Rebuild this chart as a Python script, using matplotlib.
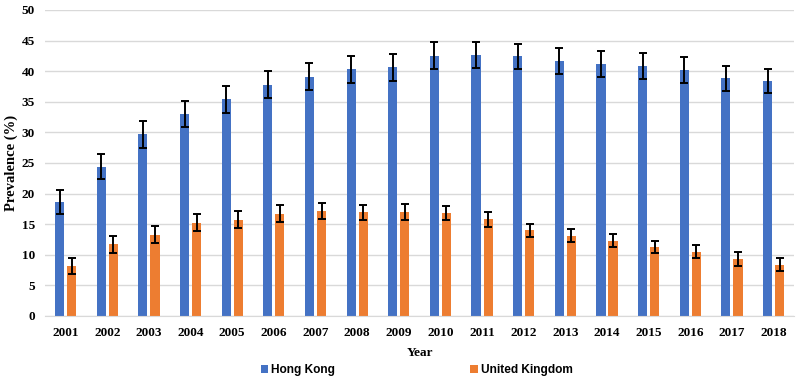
import numpy as np
import matplotlib.pyplot as plt

years = [str(y) for y in range(2001, 2019)]
hk = [18.6, 24.4, 29.7, 33.0, 35.4, 37.8, 39.1, 40.3, 40.6, 42.5, 42.6, 42.4, 41.7, 41.2, 40.8, 40.2, 38.8, 38.4]
hk_err = [2.0, 2.1, 2.2, 2.2, 2.2, 2.2, 2.2, 2.2, 2.2, 2.2, 2.1, 2.1, 2.1, 2.1, 2.1, 2.1, 2.1, 2.0]
uk = [8.2, 11.7, 13.3, 15.2, 15.7, 16.7, 17.2, 16.9, 17.0, 16.8, 15.8, 14.0, 13.1, 12.3, 11.3, 10.5, 9.3, 8.4]
uk_err = [1.3, 1.4, 1.4, 1.4, 1.4, 1.4, 1.3, 1.3, 1.3, 1.2, 1.2, 1.1, 1.1, 1.1, 1.0, 1.1, 1.1, 1.05]

blue = '#4472C4'
orange = '#ED7D31'
serif = ['Liberation Serif', 'DejaVu Serif']

fig = plt.figure(figsize=(8, 3.82), dpi=100)
ax = fig.add_axes([0.056, 0.173, 0.937, 0.801])

x = np.arange(len(years))
w = 0.22
off = 0.145
ax.bar(x - off, hk, w, color=blue, label='Hong Kong', zorder=2)
ax.bar(x + off, uk, w, color=orange, label='United Kingdom', zorder=2)
ekw = dict(fmt='none', ecolor='black', elinewidth=1.4, capsize=3, capthick=1.4, zorder=3)
ax.errorbar(x - off, hk, yerr=hk_err, **ekw)
ax.errorbar(x + off, uk, yerr=uk_err, **ekw)

ax.set_xlim(-0.5, len(years) - 0.5)
ax.set_ylim(0, 50)
ax.set_yticks(range(0, 51, 5))
ax.set_xticks(x)
ax.set_xticklabels(years)
ax.grid(axis='y', color='#D9D9D9', linewidth=1, zorder=0)
for s in ['top', 'right', 'left']:
    ax.spines[s].set_visible(False)
ax.spines['bottom'].set_color('#D9D9D9')
ax.tick_params(axis='y', length=0, pad=7)
ax.tick_params(axis='x', length=0, pad=8)
for lab in ax.get_xticklabels() + ax.get_yticklabels():
    lab.set_fontfamily(serif)
    lab.set_fontweight('bold')
    lab.set_fontsize(9.5)

ax.set_ylabel('Prevalence (%)', fontfamily=serif, fontweight='bold', fontsize=10.5, labelpad=3)
ax.set_xlabel('Year', fontfamily=serif, fontweight='bold', fontsize=9.5, labelpad=6)

leg = fig.legend(loc='center', bbox_to_anchor=(0.521, 0.031), ncol=2, frameon=False,
                 columnspacing=11.3, handlelength=0.6, handleheight=0.6, handletextpad=0.3,
                 prop={'family': ['Liberation Sans', 'DejaVu Sans'], 'weight': 'bold', 'size': 8.6})

fig.savefig('out.png', dpi=100)
